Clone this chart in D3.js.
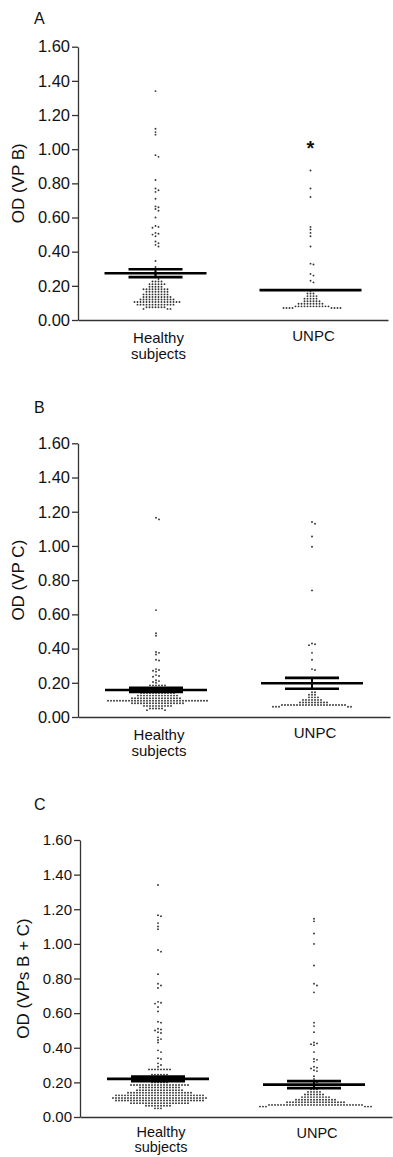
<!DOCTYPE html>
<html>
<head>
<meta charset="utf-8">
<script src="https://cdn.jsdelivr.net/npm/d3@7"></script>
<style>
  body { margin: 0; background: #fff; }
  text { font-family: Arial, "Liberation Sans", sans-serif; fill: #111; }
</style>
</head>
<body>
<svg id="chart" width="393" height="1157"></svg>
<script>
// ---- data ----
const categories = ["Healthy subjects", "UNPC"];
const panelLetters = ["A", "B", "C"];
const yTitles = ["OD (VP B)", "OD (VP C)", "OD (VPs B + C)"];
const yTicks = [0, 0.2, 0.4, 0.6, 0.8, 1.0, 1.2, 1.4, 1.6];

// panel A – VP B
const healthyVPB = [
  1.34, 1.12, 1.10, 1.085, 0.965, 0.955, 0.82, 0.77, 0.76, 0.75, 0.71,
  0.665, 0.66, 0.65, 0.64, 0.60, 0.55, 0.545, 0.54, 0.51, 0.505, 0.50, 0.49,
  0.46, 0.45, 0.44, 0.43, 0.345, 0.31, 0.30, 0.28, 0.265, 0.25, 0.24,
  0.225, 0.225, 0.225, 0.225,
  0.21, 0.21, 0.21, 0.21, 0.21, 0.21,
  0.195, 0.195, 0.195, 0.195, 0.195,
  0.18, 0.18, 0.18, 0.18, 0.18, 0.18, 0.18, 0.18, 0.18,
  0.165, 0.165, 0.165, 0.165, 0.165, 0.165, 0.165, 0.165,
  0.15, 0.15, 0.15, 0.15, 0.15, 0.15, 0.15, 0.15, 0.15,
  0.135, 0.135, 0.135, 0.135, 0.135, 0.135, 0.135, 0.135, 0.135, 0.135,
  0.12, 0.12, 0.12, 0.12, 0.12, 0.12, 0.12, 0.12, 0.12, 0.12, 0.12, 0.12,
  0.105, 0.105, 0.105, 0.105, 0.105, 0.105, 0.105, 0.105, 0.105, 0.105, 0.105, 0.105, 0.105, 0.105, 0.105, 0.105,
  0.09, 0.09, 0.09, 0.09, 0.09, 0.09, 0.09, 0.09, 0.09, 0.09, 0.09, 0.09, 0.09,
  0.075, 0.075, 0.075, 0.075, 0.075, 0.075, 0.075,
  0.065, 0.065, 0.065
];
const unpcVPB = [
  0.875, 0.77, 0.72, 0.545, 0.53, 0.51, 0.49, 0.43, 0.33, 0.325, 0.27, 0.26, 0.23, 0.22, 0.17,
  0.155, 0.155, 0.155,
  0.14, 0.14, 0.14, 0.14,
  0.125, 0.125, 0.125, 0.125, 0.125,
  0.11, 0.11, 0.11, 0.11, 0.11, 0.11,
  0.095, 0.095, 0.095, 0.095, 0.095, 0.095, 0.095, 0.095, 0.095,
  0.08, 0.08, 0.08, 0.08, 0.08, 0.08, 0.08, 0.08, 0.08, 0.08, 0.08, 0.08,
  0.07, 0.07, 0.07, 0.07, 0.07, 0.07, 0.07, 0.07
];
const meanVPB = [0.274, 0.175];
const semVPB = [0.023, 0];
const markVPB = ["", "*"];

// panel B – VP C
const healthyVPC = [
  1.165, 1.155, 0.625, 0.49, 0.475, 0.38, 0.375, 0.365, 0.335, 0.33,
  0.28, 0.275, 0.27, 0.265, 0.245, 0.24, 0.235, 0.215, 0.21, 0.205, 0.2,
  0.185, 0.185, 0.185, 0.185, 0.185, 0.185,
  0.17, 0.17, 0.17, 0.17, 0.17, 0.17,
  0.155, 0.155, 0.155, 0.155, 0.155, 0.155, 0.155, 0.155,
  0.14, 0.14, 0.14, 0.14, 0.14, 0.14, 0.14, 0.14, 0.14, 0.14, 0.14, 0.14,
  0.125, 0.125, 0.125, 0.125, 0.125, 0.125, 0.125, 0.125, 0.125, 0.125, 0.125, 0.125, 0.125, 0.125,
  0.11, 0.11, 0.11, 0.11, 0.11, 0.11, 0.11, 0.11, 0.11, 0.11, 0.11, 0.11, 0.11, 0.11, 0.11, 0.11, 0.11,
  0.095, 0.095, 0.095, 0.095, 0.095, 0.095, 0.095, 0.095, 0.095, 0.095, 0.095, 0.095,
  0.095, 0.095, 0.095, 0.095, 0.095, 0.095, 0.095, 0.095, 0.095, 0.095, 0.095, 0.095,
  0.095, 0.095, 0.095, 0.095, 0.095, 0.095, 0.095, 0.095, 0.095, 0.095,
  0.08, 0.08, 0.08, 0.08, 0.08, 0.08, 0.08, 0.08, 0.08, 0.08, 0.08, 0.08, 0.08, 0.08, 0.08, 0.08, 0.08, 0.08,
  0.065, 0.065, 0.065, 0.065, 0.065, 0.065, 0.065, 0.065, 0.065, 0.065,
  0.05, 0.05, 0.05, 0.05, 0.05,
  0.04, 0.04
];
const unpcVPC = [
  1.14, 1.13, 1.055, 0.995, 0.74, 0.43, 0.425, 0.42, 0.375, 0.335, 0.28, 0.275, 0.19, 0.175,
  0.145, 0.145,
  0.13, 0.13, 0.13,
  0.115, 0.115, 0.115, 0.115,
  0.10, 0.10, 0.10, 0.10, 0.10, 0.10, 0.10,
  0.085, 0.085, 0.085, 0.085, 0.085, 0.085, 0.085, 0.085, 0.085, 0.085,
  0.07, 0.07, 0.07, 0.07, 0.07, 0.07, 0.07, 0.07, 0.07, 0.07, 0.07,
  0.07, 0.07, 0.07, 0.07, 0.07, 0.07, 0.07, 0.07, 0.07, 0.07, 0.07,
  0.06, 0.06, 0.06, 0.06, 0.06
];
const meanVPC = [0.158, 0.197];
const semVPC = [0.012, 0.032];
const markVPC = ["", ""];

// panel C – VPs B + C
const healthyVPBC = [
  1.34, 1.165, 1.16, 1.12, 1.10, 1.085, 0.965, 0.955, 0.825, 0.77, 0.76, 0.745,
  0.665, 0.66, 0.655, 0.635, 0.61, 0.55, 0.545, 0.51, 0.505, 0.50, 0.49, 0.485,
  0.46, 0.45, 0.445, 0.43, 0.385, 0.375, 0.34, 0.335, 0.31, 0.30, 0.29,
  0.275, 0.275, 0.275, 0.275, 0.275, 0.275, 0.275, 0.275,
  0.245, 0.245, 0.245, 0.245, 0.245, 0.245,
  0.23, 0.23, 0.23, 0.23, 0.23,
  0.215, 0.215, 0.215, 0.215, 0.215, 0.215,
  0.2, 0.2, 0.2, 0.2, 0.2, 0.2,
  0.185, 0.185, 0.185, 0.185, 0.185, 0.185, 0.185, 0.185, 0.185, 0.185,
  0.185, 0.185, 0.185, 0.185, 0.185, 0.185, 0.185, 0.185, 0.185, 0.185,
  0.17, 0.17, 0.17, 0.17, 0.17, 0.17, 0.17, 0.17, 0.17, 0.17, 0.17, 0.17, 0.17, 0.17,
  0.155, 0.155, 0.155, 0.155, 0.155, 0.155, 0.155, 0.155, 0.155, 0.155, 0.155, 0.155, 0.155, 0.155, 0.155, 0.155,
  0.14, 0.14, 0.14, 0.14, 0.14, 0.14, 0.14, 0.14, 0.14, 0.14, 0.14,
  0.14, 0.14, 0.14, 0.14, 0.14, 0.14, 0.14, 0.14, 0.14, 0.14, 0.14,
  0.125, 0.125, 0.125, 0.125, 0.125, 0.125, 0.125, 0.125, 0.125, 0.125,
  0.125, 0.125, 0.125, 0.125, 0.125, 0.125, 0.125, 0.125, 0.125, 0.125,
  0.125, 0.125, 0.125, 0.125, 0.125, 0.125, 0.125, 0.125, 0.125, 0.125,
  0.11, 0.11, 0.11, 0.11, 0.11, 0.11, 0.11, 0.11, 0.11, 0.11, 0.11,
  0.11, 0.11, 0.11, 0.11, 0.11, 0.11, 0.11, 0.11, 0.11, 0.11, 0.11,
  0.11, 0.11, 0.11, 0.11, 0.11, 0.11, 0.11, 0.11, 0.11, 0.11,
  0.095, 0.095, 0.095, 0.095, 0.095, 0.095, 0.095, 0.095, 0.095, 0.095,
  0.095, 0.095, 0.095, 0.095, 0.095, 0.095, 0.095, 0.095, 0.095, 0.095,
  0.095, 0.095, 0.095, 0.095, 0.095, 0.095, 0.095, 0.095, 0.095, 0.095,
  0.08, 0.08, 0.08, 0.08, 0.08, 0.08, 0.08, 0.08, 0.08, 0.08,
  0.08, 0.08, 0.08, 0.08, 0.08, 0.08, 0.08, 0.08, 0.08, 0.08,
  0.065, 0.065, 0.065, 0.065, 0.065, 0.065, 0.065, 0.065, 0.065,
  0.05, 0.05, 0.05
];
const unpcVPBC = [
  1.145, 1.13, 1.06, 1.0, 0.875, 0.77, 0.76, 0.72, 0.545, 0.525, 0.49,
  0.43, 0.425, 0.42, 0.415, 0.375, 0.335, 0.33, 0.32, 0.29, 0.285, 0.28, 0.27, 0.265, 0.235, 0.22,
  0.2, 0.2, 0.185, 0.185,
  0.16, 0.16, 0.16,
  0.145, 0.145, 0.145, 0.145, 0.145,
  0.13, 0.13, 0.13, 0.13, 0.13, 0.13, 0.13,
  0.115, 0.115, 0.115, 0.115, 0.115, 0.115, 0.115, 0.115, 0.115, 0.115,
  0.10, 0.10, 0.10, 0.10, 0.10, 0.10, 0.10, 0.10, 0.10, 0.10, 0.10, 0.10, 0.10, 0.10,
  0.085, 0.085, 0.085, 0.085, 0.085, 0.085, 0.085, 0.085, 0.085, 0.085,
  0.085, 0.085, 0.085, 0.085, 0.085, 0.085, 0.085, 0.085, 0.085, 0.085,
  0.07, 0.07, 0.07, 0.07, 0.07, 0.07, 0.07, 0.07, 0.07, 0.07, 0.07,
  0.07, 0.07, 0.07, 0.07, 0.07, 0.07, 0.07, 0.07, 0.07, 0.07, 0.07,
  0.07, 0.07, 0.07, 0.07, 0.07, 0.07, 0.07, 0.07, 0.07, 0.07,
  0.06, 0.06, 0.06, 0.06, 0.06, 0.06
];
const meanVPBC = [0.22, 0.187];
const semVPBC = [0.013, 0.02];
const markVPBC = ["", ""];

// ---- layout (pixels) ----
const layouts = [
  {top: 46.7, bottom: 320, left: 78, right: 388, letterY: 24, titleX: 20, tickFont: 16.5,
   labelFont: 15, line1: 23, line2: 39, single: 21},
  {top: 443.3, bottom: 717, left: 78, right: 390, letterY: 413, titleX: 20, tickFont: 16.5,
   labelFont: 15, line1: 23, line2: 39, single: 21},
  {top: 840, bottom: 1117, left: 80, right: 392, letterY: 810, titleX: 25, tickFont: 15,
   labelFont: 14.5, line1: 20, line2: 35, single: 21}
];

const panels = [
  {values: [healthyVPB, unpcVPB], means: meanVPB, sems: semVPB, marks: markVPB},
  {values: [healthyVPC, unpcVPC], means: meanVPC, sems: semVPC, marks: markVPC},
  {values: [healthyVPBC, unpcVPBC], means: meanVPBC, sems: semVPBC, marks: markVPBC}
];

const svg = d3.select('#chart');

// simple GraphPad-like column scatter: put each dot at the nearest free slot in its row
function swarm(values, y, cx) {
  const placed = [];
  values.slice().sort((a, b) => b - a).forEach(v => {
    const py = y(v);
    let off = 0;
    for (let i = 0; i < 400; i++) {
      const o = i === 0 ? 0 : (i % 2 ? 1 : -1) * Math.ceil(i / 2) * 1.5;
      const hit = placed.some(p => Math.abs(p.y - py) < 2.3 && Math.abs(p.x - o) < 2.9);
      if (!hit) { off = o; break; }
    }
    placed.push({x: off, y: py});
  });
  return placed.map(p => ({x: cx + p.x, y: p.y}));
}

panels.forEach((p, i) => {
  const L = layouts[i];
  const g = svg.append('g');

  const y = d3.scaleLinear().domain([0, 1.6]).range([L.bottom, L.top]);
  const x = d3.scalePoint().domain(categories).range([L.left, L.right]).padding(0.5);

  // panel letter
  g.append('text')
    .attr('x', 34).attr('y', L.letterY)
    .attr('font-size', 16)
    .text(panelLetters[i]);

  // y axis
  const yAxis = g.append('g')
    .attr('transform', 'translate(' + L.left + ',0)')
    .call(d3.axisLeft(y).tickValues(yTicks).tickFormat(d3.format('.2f'))
      .tickSize(6).tickSizeOuter(0).tickPadding(2));
  yAxis.selectAll('text').attr('font-size', L.tickFont).attr('fill', '#111')
    .attr('font-family', 'Arial, "Liberation Sans", sans-serif');
  yAxis.selectAll('line, path').attr('stroke', '#333').attr('stroke-width', 1.3);

  // y title
  g.append('text')
    .attr('transform', 'translate(' + L.titleX + ',' + ((L.top + L.bottom) / 2) + ') rotate(-90)')
    .attr('text-anchor', 'middle')
    .attr('dominant-baseline', 'middle')
    .attr('font-size', 17)
    .text(yTitles[i]);

  // x axis
  const xAxis = g.append('g')
    .attr('transform', 'translate(0,' + L.bottom + ')')
    .call(d3.axisBottom(x).tickSize(0).tickSizeOuter(0).tickFormat(''));
  xAxis.select('path').attr('stroke', '#333').attr('stroke-width', 1.3);

  categories.forEach(c => {
    const words = c.split(' ');
    const t = g.append('text')
      .attr('text-anchor', 'middle')
      .attr('font-size', L.labelFont);
    if (words.length > 1) {
      t.append('tspan').attr('x', x(c) + 3).attr('y', L.bottom + L.line1).text(words[0]);
      t.append('tspan').attr('x', x(c) + 3).attr('y', L.bottom + L.line2).text(words.slice(1).join(' '));
    } else {
      t.append('tspan').attr('x', x(c) + 3).attr('y', L.bottom + L.single).text(c);
    }
  });

  // dots
  categories.forEach((c, j) => {
    g.append('g').selectAll('circle')
      .data(swarm(p.values[j], y, x(c)))
      .enter().append('circle')
        .attr('cx', d => d.x)
        .attr('cy', d => d.y)
        .attr('r', 0.95)
        .attr('fill', '#333');
  });

  // mean + SEM
  categories.forEach((c, j) => {
    const cx = x(c), m = p.means[j], s = p.sems[j];
    const eg = g.append('g').attr('stroke', '#000').attr('stroke-width', 2.6);
    if (s > 0) {
      eg.append('line').attr('x1', cx).attr('x2', cx)
        .attr('y1', y(m + s)).attr('y2', y(m - s)).attr('stroke-width', 2);
      [m + s, m - s].forEach(v => {
        eg.append('line').attr('x1', cx - 27).attr('x2', cx + 27)
          .attr('y1', y(v)).attr('y2', y(v));
      });
    }
    eg.append('line').attr('x1', cx - 51).attr('x2', cx + 51)
      .attr('y1', y(m)).attr('y2', y(m));

    if (p.marks[j]) {
      g.append('text')
        .attr('x', cx).attr('y', y(1.0) + 6)
        .attr('text-anchor', 'middle')
        .attr('font-size', 20)
        .attr('font-weight', 'bold')
        .text(p.marks[j]);
    }
  });
});
</script>
</body>
</html>
